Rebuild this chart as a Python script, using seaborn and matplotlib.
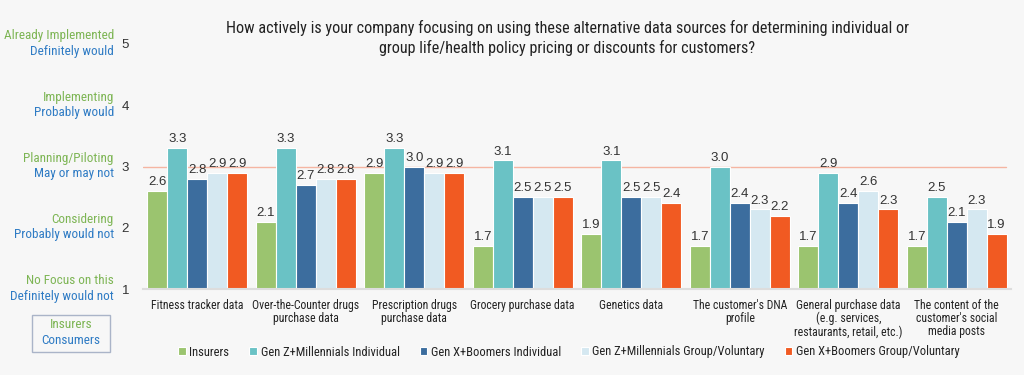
import numpy as np
import pandas as pd
import matplotlib
matplotlib.use("Agg")
import matplotlib.pyplot as plt
import seaborn as sns
from matplotlib import font_manager
from matplotlib.patches import Rectangle

categories = ["Fitness tracker data", "Over-the-Counter drugs\npurchase data",
              "Prescription drugs\npurchase data", "Grocery purchase data",
              "Genetics data", "The customer's DNA\nprofile",
              "General purchase data\n(e.g. services,\nrestaurants, retail, etc.)",
              "The content of the\ncustomer's social\nmedia posts"]
series = ["Insurers", "Gen Z+Millennials Individual", "Gen X+Boomers Individual",
          "Gen Z+Millennials Group/Voluntary", "Gen X+Boomers Group/Voluntary"]
insurers = [2.6, 2.1, 2.9, 1.7, 1.9, 1.7, 1.7, 1.7]
genz_ind = [3.3, 3.3, 3.3, 3.1, 3.1, 3.0, 2.9, 2.5]
genx_ind = [2.8, 2.7, 3.0, 2.5, 2.5, 2.4, 2.4, 2.1]
genz_grp = [2.9, 2.8, 2.9, 2.5, 2.5, 2.3, 2.6, 2.3]
genx_grp = [2.9, 2.8, 2.9, 2.5, 2.4, 2.2, 2.3, 1.9]
ticks = [1, 2, 3, 4, 5]
insurer_levels = ["No Focus on this", "Considering", "Planning/Piloting", "Implementing", "Already Implemented"]
consumer_levels = ["Definitely would not", "Probably would not", "May or may not", "Probably would", "Definitely would"]
title = ("How actively is your company focusing on using these alternative data sources for determining individual or\n"
         "group life/health policy pricing or discounts for customers?")

colors = ["#9BC46F", "#6AC2C5", "#3C6D9E", "#D5E8F1", "#F15A22"]
GREEN_TXT = "#7DB554"
BLUE_TXT = "#2E7BC4"
BG = "#F7F7F7"

def pick(names):
    for n in names:
        try:
            font_manager.findfont(n, fallback_to_default=False)
            return n
        except Exception:
            pass
    return "DejaVu Sans"

NARROW = pick(["Liberation Sans Narrow", "Roboto Condensed", "Liberation Sans"])
REG = pick(["Liberation Sans", "DejaVu Sans"])

sns.set_theme(style="white")
plt.rcParams["font.family"] = [REG, "DejaVu Sans"]

rows = []
for s, vals in zip(series, [insurers, genz_ind, genx_ind, genz_grp, genx_grp]):
    for c, v in zip(categories, vals):
        rows.append({"cat": c, "series": s, "value": v})
df = pd.DataFrame(rows)

fig = plt.figure(figsize=(10.24, 3.75), dpi=100, facecolor=BG)
ax = fig.add_axes([143/1024, 1-289/375, (1011-143)/1024, (289-44)/375])
ax.set_facecolor(BG)

sns.barplot(data=df, x="cat", y="value", hue="series", order=categories, hue_order=series,
            palette=colors, saturation=1, width=0.92, edgecolor="white", linewidth=0.8, ax=ax,
            legend=True, errorbar=None)

ax.set_ylim(1, 5)
ax.set_xlim(-0.5, 7.5)
ax.axhline(3, xmin=0, xmax=0.994, color="#F5B5A2", lw=1.0, zorder=0.5)

for cont in ax.containers:
    ax.bar_label(cont, fmt="%.1f", padding=2, fontsize=9.5, color="#333333", family=REG)

ax.set_yticks(ticks)
ax.set_yticklabels([str(t) for t in ticks], fontsize=9.5, color="#333333")
ax.tick_params(axis="y", length=0, pad=10)
ax.tick_params(axis="x", length=0, pad=7)
ax.set_xticks(range(len(categories)))
ax.set_xticklabels(categories, fontsize=8.5, color="#222222", family=NARROW, linespacing=1.0, va="top")
ax.set_xlabel("")
ax.set_ylabel("")
for side in ["top", "right", "left"]:
    ax.spines[side].set_visible(False)
ax.spines["bottom"].set_color("#DDDDDD")
ax.spines["bottom"].set_linewidth(1.5)

# left labels
for t, g, b in zip(ticks, insurer_levels, consumer_levels):
    ax.annotate(g, xy=(0, t), xycoords=("axes fraction", "data"), xytext=(-21, 5.8),
                textcoords="offset points", ha="right", va="center", fontsize=9.5,
                color=GREEN_TXT, family=NARROW, annotation_clip=False)
    ax.annotate(b, xy=(0, t), xycoords=("axes fraction", "data"), xytext=(-21, -5.2),
                textcoords="offset points", ha="right", va="center", fontsize=9.5,
                color=BLUE_TXT, family=NARROW, annotation_clip=False)

# key box
fig.patches.append(Rectangle((32/1024, 1-352/375), 78/1024, 37/375, transform=fig.transFigure,
                             facecolor="none", edgecolor="#AAB4C8", lw=1.0))
fig.text(71/1024, 1-325/375, "Insurers", ha="center", va="center", fontsize=9.5,
         color=GREEN_TXT, family=NARROW)
fig.text(71/1024, 1-340/375, "Consumers", ha="center", va="center", fontsize=9.5,
         color=BLUE_TXT, family=NARROW)

fig.text(567/1024, 1-38/375, title, ha="center", va="center", fontsize=11.6,
         color="#222222", family=NARROW, linespacing=1.25)

handles, labels = ax.get_legend_handles_labels()
ax.get_legend().remove()
leg = fig.legend(handles, labels, loc="center", bbox_to_anchor=(569/1024, 1-352/375), ncol=5,
                 frameon=False, handlelength=0.6, handleheight=0.6,
                 handletextpad=0.3, columnspacing=1.6, prop={"family": NARROW, "size": 9})
for t in leg.get_texts():
    t.set_color("#222222")

fig.savefig("out.png", dpi=100, facecolor=BG)
